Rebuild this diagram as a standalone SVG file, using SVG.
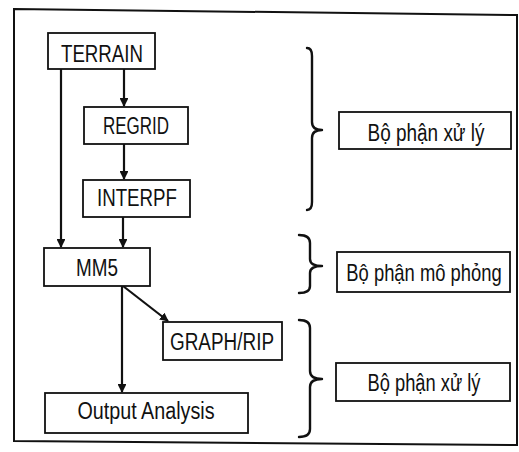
<svg xmlns="http://www.w3.org/2000/svg" width="519" height="452" viewBox="0 0 519 452">
<defs>
<marker id="ah" viewBox="0 0 10 10" refX="9" refY="5" markerWidth="4" markerHeight="4" orient="auto">
<path d="M0,0 L10,5 L0,10 z" fill="#111"/>
</marker>
<style>
.box{fill:#fff;stroke:#111;stroke-width:1.8}
.t{font-family:"Liberation Sans",Arial,sans-serif;font-size:23px;fill:#111;text-anchor:middle}
.c{fill:none;stroke:#111;stroke-width:2.2}
.br{fill:none;stroke:#111;stroke-width:2.4;stroke-linejoin:round;stroke-linecap:round}
</style>
</defs>
<rect width="519" height="452" fill="#fff"/>
<path d="M14,9 L517,15 L517,445 L14,441 Z" fill="none" stroke="#111" stroke-width="2"/>

<g id="connectors">
<path class="c" d="M124,69 L124,106" marker-end="url(#ah)"/>
<path class="c" d="M124,144 L124,179" marker-end="url(#ah)"/>
<path class="c" d="M123,217 L123,247" marker-end="url(#ah)"/>
<path class="c" d="M61,69 L61,247" marker-end="url(#ah)"/>
<path class="c" d="M122,286 L122,392" marker-end="url(#ah)"/>
<path class="c" d="M123,286 L168,321" marker-end="url(#ah)" stroke-width="3"/>
</g>

<g id="terrain">
<rect class="box" x="48" y="33" width="107" height="36"/>
<text class="t" x="102" y="62" textLength="82" lengthAdjust="spacingAndGlyphs">TERRAIN</text>
</g>
<g id="regrid">
<rect class="box" x="84" y="107" width="104" height="37"/>
<text class="t" x="136" y="134" textLength="66" lengthAdjust="spacingAndGlyphs">REGRID</text>
</g>
<g id="interpf">
<rect class="box" x="83" y="180" width="107" height="37"/>
<text class="t" x="137" y="206" textLength="80" lengthAdjust="spacingAndGlyphs">INTERPF</text>
</g>
<g id="mm5">
<rect class="box" x="44" y="248" width="106" height="38"/>
<text class="t" x="97" y="276" textLength="42" lengthAdjust="spacingAndGlyphs">MM5</text>
</g>
<g id="graphrip">
<rect class="box" x="163" y="322" width="119" height="38"/>
<text class="t" x="222" y="350" textLength="104" lengthAdjust="spacingAndGlyphs">GRAPH/RIP</text>
</g>
<g id="output">
<rect class="box" x="45" y="393" width="203" height="40"/>
<text class="t" x="146" y="419" textLength="137" lengthAdjust="spacingAndGlyphs">Output Analysis</text>
</g>

<g id="brace1">
<path class="br" d="M307,48 Q312,48 312,56 L312,122 Q312,130 322,130 Q312,130 312,138 L312,202 Q312,210 307,210"/>
</g>
<g id="label1">
<rect class="box" x="339" y="112" width="172" height="37"/>
<text class="t" x="426" y="141" textLength="117" lengthAdjust="spacingAndGlyphs">Bộ phận xử lý</text>
</g>
<g id="brace2">
<path class="br" d="M299,235 Q310,235 310,243 L310,259 Q310,266 322,266 Q310,266 310,273 L310,286 Q310,293 299,293"/>
</g>
<g id="label2">
<rect class="box" x="337" y="252" width="173" height="40"/>
<text class="t" transform="translate(424,281) scale(0.8,1)" x="0" y="0" font-size="22">Bộ phận mô phỏng</text>
</g>
<g id="brace3">
<path class="br" d="M299,320 Q310,320 310,328 L310,371 Q310,379 322,379 Q310,379 310,387 L310,429 Q310,437 299,437"/>
</g>
<g id="label3">
<rect class="box" x="336" y="363" width="174" height="38"/>
<text class="t" x="424" y="391" textLength="113" lengthAdjust="spacingAndGlyphs">Bộ phận xử lý</text>
</g>
</svg>
